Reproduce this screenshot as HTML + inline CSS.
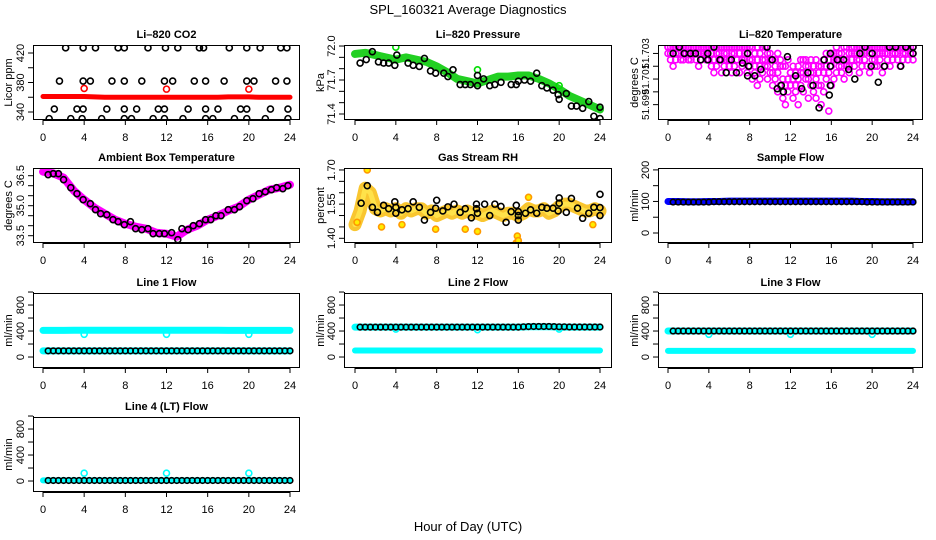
<!DOCTYPE html>
<html><head><meta charset="utf-8"><style>
html,body{margin:0;padding:0;background:#fff;}
svg{display:block;font-family:"Liberation Sans",sans-serif;}
</style></head><body>
<svg id="chart" width="936" height="540" viewBox="0 0 936 540" xmlns="http://www.w3.org/2000/svg">
<text x="468" y="14" text-anchor="middle" font-size="13">SPL_160321  Average Diagnostics</text>
<text x="468" y="531" text-anchor="middle" font-size="13">Hour of Day (UTC)</text>
</svg>
<script>
// ---------- data ----------
const xTicks = [0,4,8,12,16,20,24];
const co2BlackH = [2.2,3.9,5.1,7.3,7.9,10.2,11.9,13.1,15.2,15.6,18.1,19.8,21.1,23.1,23.7,
 1.6,3.9,4.6,6.7,7.9,9.6,11.8,12.6,14.7,15.8,17.6,19.8,20.5,22.6,23.7,
 1.1,3.3,3.9,6.2,7.9,9.1,11.2,11.8,14.1,15.8,17,19.2,19.8,22.1,23.8,
 0.6,2.7,3.8,5.7,7.9,8.6,10.7,11.8,13.6,15.8,16.5,18.6,19.8,21.6,23.8];
const co2BlackV = [427,427,427,427,427,427,427,427,427,427,427,427,427,427,427,
 382,382,382,382,382,382,382,382,382,382,382,382,382,382,382,
 344,344,344,344,344,344,344,344,344,344,344,344,344,344,344,
 331,331,331,331,331,331,331,331,331,331,331,331,331,331,331];
const co2Red = [361,361,361,361,361,360.5,360,360,360,360,360,360,360,360,360,360,360,360,360.5,360.5,360.5,360,360,360,360];
const co2RedOutH = [4,12,20];
const co2RedOutV = [372,371,371];

const pressGreen = [71.93,71.94,71.92,71.9,71.88,71.9,71.88,71.86,71.82,71.77,71.71,71.69,71.67,71.7,71.73,71.73,71.74,71.74,71.71,71.67,71.62,71.56,71.52,71.48,71.44];
const pressOutH = [4,12,20];
const pressOutV = [71.99,71.79,71.65];
const pressBlackH = [0.5,1.1,1.7,2.3,2.8,3.3,3.9,4.1,5.2,5.7,6.3,6.8,7.4,7.9,8.7,9.1,9.6,10.3,10.8,11.3,12,12,12.6,13.2,13.7,14.3,15.3,15.8,16,16.6,17.2,17.8,18.3,18.8,19.4,19.9,20,20.7,21.2,21.7,22.3,22.9,23.4,24,24];
const pressBlackV = [71.85,71.88,71.95,71.86,71.85,71.85,71.83,71.92,71.85,71.83,71.82,71.89,71.78,71.76,71.76,71.73,71.79,71.66,71.66,71.66,71.65,71.74,71.71,71.65,71.66,71.68,71.66,71.66,71.69,71.70,71.69,71.76,71.65,71.63,71.61,71.57,71.53,71.58,71.47,71.47,71.45,71.51,71.38,71.46,71.36];

const tempMagA = [51.7035,51.7035,51.7035,51.7035,51.7035,51.7035,51.7035,51.7035,51.7035,
 51.7035,51.7035,51.7035,51.7035,51.7035,51.7035,51.7035,51.7035,
 51.7035,51.7035,51.7035,51.7035,51.7035,51.7035,51.7035,51.7035,51.7035,51.7035,51.7035,51.7035,51.7035,51.7035,51.7035,51.7035,
 51.7035,51.703,51.7035,51.703,51.7035,51.7035,51.703,51.703,
 51.7025,51.7025,51.703,51.7025,
 51.702,51.702,51.7025,51.7015,51.702,51.7015,51.702,51.7025,
 51.7025,51.7025,51.702,51.7025,51.702,51.7025,51.702,51.702,51.7025,51.703,51.7025,51.703,
 51.703,51.7035,51.703,51.703,51.7035,51.7035,51.703,51.7035,
 51.7035,51.7035,51.7035,51.7035,51.7035,51.7035,51.7035,51.7035,51.7035,51.7035,51.7035,51.7035,51.7035,51.7035,51.7035,51.7035,51.7035,51.7035,51.7035,51.7035,51.7035,51.7035,51.7035,51.7035];
const tempMagB = [51.703,51.7025,51.702,51.7025,51.703,51.7025,51.7025,51.703,51.7025,
 51.7025,51.703,51.7025,51.702,51.7025,51.703,51.7025,51.7025,
 51.702,51.7015,51.702,51.7025,51.7015,51.702,51.7025,51.702,51.7015,51.702,51.7025,51.7015,51.702,51.7025,51.7015,51.702,
 51.701,51.7015,51.7005,51.701,51.7015,51.702,51.701,51.7015,
 51.7005,51.701,51.7,51.7005,
 51.6995,51.699,51.7,51.7005,51.6995,51.7,51.699,51.7005,
 51.7,51.701,51.6995,51.7005,51.7,51.6995,51.7005,51.699,51.7,51.701,51.6985,51.7005,
 51.701,51.7015,51.702,51.7015,51.701,51.702,51.7015,51.7025,
 51.702,51.7025,51.7015,51.702,51.7025,51.702,51.7015,51.7025,51.702,51.702,51.7025,51.7015,51.702,51.7025,51.702,51.7025,51.703,51.7025,51.702,51.7025,51.703,51.7025,51.703,51.7025];
const tempMagC = [51.7035,51.703,51.7035,51.703,51.703,51.7035,51.703,51.7035,51.703,
 51.703,51.703,51.7035,51.703,51.703,51.703,51.703,51.7035,
 51.703,51.7025,51.703,51.703,51.7025,51.703,51.703,51.7025,51.703,51.703,51.7025,51.703,51.7025,51.703,51.703,51.7025,
 51.7025,51.702,51.7025,51.702,51.7025,51.7025,51.702,51.7025,
 51.7015,51.702,51.7015,51.702,
 51.701,51.7005,51.701,51.7015,51.701,51.7005,51.701,51.7015,
 51.7015,51.702,51.701,51.7015,51.7015,51.701,51.7015,51.7005,51.7015,51.702,51.7015,51.702,
 51.7025,51.7025,51.7025,51.702,51.7025,51.7025,51.702,51.703,
 51.703,51.703,51.7025,51.703,51.703,51.7035,51.703,51.703,51.7025,51.703,51.703,51.703,51.703,51.703,51.7035,51.703,51.703,51.703,51.7035,51.703,51.703,51.7035,51.703,51.703];
const tempBlackH = [1.1,0.5,1.6,2.2,2.7,3.2,3.9,3.9,4.5,5.1,5.7,6.2,6.7,7.3,7.8,7.9,7.8,8.5,9.1,9.7,10.2,10.7,11.1,11.3,11.7,12.5,13.1,13.7,14.2,14.8,15.3,15.8,15.9,15.9,15.9,16.6,17.2,17.7,18.3,18.8,19.3,19.9,20.0,20.6,21.2,21.7,22.3,22.8,23.3,24,24];
const tempBlackV = [51.7035,51.703,51.703,51.703,51.703,51.7025,51.703,51.7025,51.7035,51.7025,51.7015,51.7025,51.7015,51.70225,51.703,51.702,51.70125,51.70125,51.70175,51.7035,51.7025,51.70025,51.7005,51.7,51.70275,51.70125,51.70025,51.7015,51.7005,51.69875,51.7025,51.69975,51.7005,51.702,51.703,51.7025,51.7025,51.70175,51.701,51.703,51.7035,51.702,51.703,51.70075,51.702,51.7035,51.7035,51.702,51.7035,51.703,51.7035];

const ambMag = [36.7,36.62,36.4,35.75,35.3,34.9,34.6,34.3,34.1,33.95,33.85,33.65,33.6,33.45,33.8,34.0,34.3,34.5,34.75,34.95,35.3,35.55,35.8,35.9,36.05];
const ambBlackH = [0.5,1,1.5,2,2.7,3.3,3.9,4.6,5.1,5.6,6.2,6.8,7.3,7.9,8.5,9,9.6,10.2,10.7,11.3,11.8,12.5,13.1,13.5,14.1,14.6,15.2,15.8,16.3,16.8,17.3,18,18.6,19.1,19.8,20.4,21,21.6,22.2,22.7,23.3,23.8];
const ambBlackV = [36.55,36.6,36.6,36.3,35.9,35.6,35.3,35.1,34.8,34.6,34.55,34.3,34.2,34.05,34.2,33.85,33.8,33.85,33.6,33.6,33.6,33.65,33.3,33.85,33.8,34.0,34.1,34.3,34.3,34.5,34.5,34.8,34.8,34.95,35.25,35.35,35.6,35.7,35.8,35.9,35.85,36.0];

const rhBand = [1.46,1.52,1.62,1.60,1.53,1.52,1.53,1.52,1.53,1.51,1.53,1.52,1.53,1.53,1.51,1.52,1.50,1.51,1.52,1.51,1.52,1.51,1.52,1.51,1.51,1.50,1.51,1.52,1.51,1.50,1.51,1.51,1.50,1.51,1.53,1.52,1.52,1.53,1.51,1.52,1.54,1.55,1.55,1.54,1.53,1.52,1.52,1.53,1.52];
const rhOutH = [1.2,2.6,4.6,7.9,10.8,12.0,15.8,15.9,16.0,23.3,0.2,17.0];
const rhOutV = [1.70,1.45,1.46,1.44,1.44,1.43,1.38,1.41,1.39,1.46,1.47,1.58];
const rhBlackH = [0.6,1.2,1.7,2.2,2.8,3.3,3.9,4.0,4.0,4.6,5.2,5.7,6.3,6.8,7.4,7.9,8.0,8.6,9.1,9.7,10.3,10.8,11.4,11.9,11.9,12.0,12.7,13.2,13.7,14.3,14.8,15.3,15.8,16.0,16.0,16.0,16.7,17.2,17.8,18.3,18.8,19.4,19.9,20.0,20.0,20.7,21.2,21.8,22.3,22.9,23.4,24.0,24.0,24.0];
const rhBlackV = [1.554,1.631,1.536,1.514,1.545,1.53,1.56,1.536,1.51,1.525,1.53,1.56,1.536,1.48,1.514,1.532,1.567,1.52,1.538,1.55,1.514,1.53,1.49,1.55,1.53,1.51,1.55,1.50,1.55,1.54,1.47,1.517,1.545,1.517,1.50,1.48,1.51,1.525,1.51,1.536,1.532,1.532,1.52,1.554,1.577,1.514,1.575,1.532,1.488,1.51,1.536,1.535,1.50,1.593];

const sampleBlue = [100,100,99,99,100,100,101,101,101,101,101,101,101,101,101,101,101,101,101,100,100,99,99,99,99];
const sampleBlack = [98,98,98,98,98,98,98,98,99,99,99,99,99,99,99,99,99,99,99,99,99,99,99,99,99,99,99,99,99,99,99,99,99,99,99,99,99,99,98,98,98,98,98,98,98,98,98,98];

const line1CyanTop = [410,410,410,412,412,412,412,412,412,412,412,412,412,412,412,412,412,412,410,410,410,410,410,410,410];
const line1CyanLow = [95,95,95,95,95,95,95,95,95,95,95,95,95,95,95,95,95,95,95,95,95,95,95,95,95];
const line1Black = [95,95,95,95,95,95,95,95,95,95,95,95,95,95,95,95,95,95,95,95,95,95,95,95,95,95,95,95,95,95,95,95,95,95,95,95,95,95,95,95,95,95,95,95,95,95,95,95];
const line2CyanTop = [460,460,460,460,460,460,460,460,460,460,460,460,460,460,460,460,460,465,465,465,460,460,460,460,460];
const line2CyanLow = [100,100,100,100,100,100,100,100,100,100,100,100,100,100,100,100,100,100,100,100,100,100,100,100,100];
const line2Black = [460,460,460,460,460,460,460,460,460,460,460,460,460,460,460,460,460,460,460,460,460,460,460,460,460,460,460,460,460,460,460,460,465,468,470,470,470,470,468,465,465,462,462,462,462,462,462,462];
const line3CyanTop = [400,400,400,400,400,400,400,400,400,400,400,400,400,400,400,400,400,400,400,400,400,400,400,400,400];
const line3CyanLow = [95,95,95,95,95,95,95,95,95,95,95,95,95,95,95,95,95,95,95,95,95,95,95,95,95];
const line3Black = [400,400,400,400,400,400,400,400,400,400,400,400,400,400,400,400,400,400,400,400,400,400,400,400,400,400,400,400,400,400,400,400,400,400,400,400,400,400,400,400,400,400,400,400,400,400,400,400];
const line4Cyan = [10,10,10,10,10,10,10,10,10,10,10,10,10,10,10,10,10,10,10,10,10,10,10,10,10];
const line4Black = [8,8,8,8,8,8,8,8,8,8,8,8,8,8,8,8,8,8,8,8,8,8,8,8,8,8,8,8,8,8,8,8,8,8,8,8,8,8,8,8,8,8,8,8,8,8,8,8];
const flowOutH = [4,12,20];
const line1OutV = [350,350,350];
const line2OutV = [430,420,430];
const line3OutV = [350,350,350];
const line4OutV = [120,120,120];

// ---------- hour grids (category axes) ----------
const hoursHourly = []; for (let i = 0; i <= 24; i++) hoursHourly.push(i);
const hoursHalf = []; for (let i = 0; i <= 48; i++) hoursHalf.push(i / 2);
const hoursQuarter = []; for (let i = 0; i <= 96; i++) hoursQuarter.push(i / 4);
const hoursBlack = []; for (let i = 1; i <= 48; i++) hoursBlack.push(i / 2);

// ---------- layout ----------
const NS = "http://www.w3.org/2000/svg";
const svg = document.getElementById('chart');
const COLS = [{l:33,r:300,x0:43,x24:290},{l:344,r:612,x0:355,x24:600},{l:658,r:923,x0:668,x24:913}];
const ROWS = [{t:45,b:120},{t:168,b:243},{t:293,b:368},{t:417,b:492}];
const YT = [10, 322, 636];

function mk(tag, attrs, parent) {
  const e = document.createElementNS(NS, tag);
  for (const k in attrs) e.setAttribute(k, attrs[k]);
  (parent || svg).appendChild(e);
  return e;
}

function panel(spec) {
  const c = COLS[spec.col], r = ROWS[spec.row];
  const g = mk('g', {});
  
  
  const p = {
    g: g,
    x: h => c.x0 + (h / 24) * (c.x24 - c.x0),
    y: v => r.b - (v - spec.ymin) / (spec.ymax - spec.ymin) * (r.b - r.t)
  };
  const cid = 'clip-' + spec.name;
  const cp = mk('clipPath', {id: cid}, g);
  mk('rect', {x: c.l, y: r.t, width: c.r - c.l, height: r.b - r.t}, cp);
  p.plot = mk('g', {'clip-path': 'url(#' + cid + ')'}, g);
  
  
  const t = mk('text', {x: (c.l + c.r) / 2, y: r.t - 7, 'text-anchor': 'middle', 'font-size': 11, 'font-weight': 'bold'}, g);
  t.textContent = spec.title;
  
  
  const fr = mk('rect', {x: c.l + 0.5, y: r.t + 0.5, width: c.r - c.l - 1, height: r.b - r.t - 1, fill: 'none', stroke: '#000', 'stroke-width': 1}, g);
  
  
  const xa = mk('g', {}, g);
  
  
  mk('line', {x1: p.x(xTicks[0]), x2: p.x(xTicks[xTicks.length - 1]), y1: r.b + 0.5, y2: r.b + 0.5, stroke: '#000'}, xa);
  xTicks.forEach(h => {
    mk('line', {x1: p.x(h), x2: p.x(h), y1: r.b, y2: r.b + 5, stroke: '#000'}, xa);
    const tx = mk('text', {x: p.x(h), y: r.b + 21, 'text-anchor': 'middle', 'font-size': 11}, xa);
    tx.textContent = h;
    
    
  });
  const ya = mk('g', {}, g);
  
  
  mk('line', {x1: c.l + 0.5, x2: c.l + 0.5, y1: p.y(spec.ticks[0]), y2: p.y(spec.ticks[spec.ticks.length - 1]), stroke: '#000'}, ya);
  spec.ticks.forEach(v => {
    mk('line', {x1: c.l - 5, x2: c.l, y1: p.y(v), y2: p.y(v), stroke: '#000'}, ya);
  });
  spec.labels.forEach((v, i) => {
    const yy = p.y(v), xx = c.l - 9;
    const tx = mk('text', {x: xx, y: yy, 'text-anchor': 'middle', 'font-size': spec.labelSize || 11, transform: 'rotate(-90 ' + xx + ' ' + yy + ')'}, ya);
    tx.textContent = spec.labelText ? spec.labelText[i] : v;
    
    
  });
  const yx = YT[spec.col] + 2, yy = (r.t + r.b) / 2;
  const yt = mk('text', {x: yx, y: yy, 'text-anchor': 'middle', 'font-size': 11, transform: 'rotate(-90 ' + yx + ' ' + yy + ')'}, g);
  yt.textContent = spec.ytitle;
  
  
  return p;
}

function points(p, xs, ys, color, rad, sw, name, fill) {
  const g = mk('g', {}, p.plot);
  
  
  for (let i = 0; i < ys.length && i < xs.length; i++) {
    const c = mk('circle', {cx: p.x(xs[i]), cy: p.y(ys[i]), r: rad, fill: fill || 'none', stroke: color, 'stroke-width': sw}, g);
    
    
  }
}

function band(p, xs, ys, color, width, name) {
  let d = '';
  for (let i = 0; i < ys.length; i++) d += (i ? 'L' : 'M') + p.x(xs[i]).toFixed(2) + ',' + p.y(ys[i]).toFixed(2);
  const pa = mk('path', {d: d, fill: 'none', stroke: color, 'stroke-width': width, 'stroke-linecap': 'round', 'stroke-linejoin': 'round'}, p.plot);
  
  
}

const BK = '#000';
let p = panel({name:'panel-li820-co2', col:0, row:0, title:'Li\u2013820 CO2', ytitle:'Licor ppm', ymin:329.15, ymax:430.85, ticks:[340,360,380,400,420], labels:[340,380,420]});
band(p, hoursHourly, co2Red, '#ff0000', 5, 'co2-red-band');
points(p, co2RedOutH, co2RedOutV, '#ff0000', 3, 1.6, 'co2-red-outliers');
points(p, co2BlackH, co2BlackV, BK, 3, 1.6, 'co2-black-points');

p = panel({name:'panel-li820-pressure', col:1, row:0, title:'Li\u2013820 Pressure', ytitle:'kPa', ymin:71.347, ymax:72.009, ticks:[71.4,71.5,71.6,71.7,71.8,71.9,72.0], labels:[71.4,71.7,72.0], labelText:['71.4','71.7','72.0']});
band(p, hoursHourly, pressGreen, '#22d022', 8, 'pressure-green-band');
points(p, pressOutH, pressOutV, '#00dd00', 3, 1.6, 'pressure-green-outliers');
points(p, pressBlackH, pressBlackV, BK, 3, 1.6, 'pressure-black-points');

p = panel({name:'panel-li820-temperature', col:2, row:0, title:'Li\u2013820 Temperature', ytitle:'degrees C', ymin:51.6978, ymax:51.70366, ticks:[51.699,51.7,51.701,51.702,51.703], labels:[51.699,51.701,51.703], labelText:['51.699','51.701','51.703'], labelSize:10});
points(p, hoursQuarter, tempMagB, '#ff00ff', 3, 1.6, 'temp-magenta-points-low');
points(p, hoursQuarter, tempMagC, '#ff00ff', 3, 1.6, 'temp-magenta-points-mid');
points(p, hoursQuarter, tempMagA, '#ff00ff', 3, 1.6, 'temp-magenta-points-high');
points(p, tempBlackH, tempBlackV, BK, 3, 1.6, 'temp-black-points');

p = panel({name:'panel-ambient-box-temperature', col:0, row:1, title:'Ambient Box Temperature', ytitle:'degrees C', ymin:33.135, ymax:36.885, ticks:[33.5,34,34.5,35,35.5,36,36.5], labels:[33.5,35.0,36.5], labelText:['33.5','35.0','36.5']});
band(p, hoursHourly, ambMag, '#ff00ff', 8, 'ambient-magenta-band');
points(p, ambBlackH, ambBlackV, BK, 3, 1.6, 'ambient-black-points');

p = panel({name:'panel-gas-stream-rh', col:1, row:1, title:'Gas Stream RH', ytitle:'percent', ymin:1.3794, ymax:1.7086, ticks:[1.40,1.45,1.50,1.55,1.60,1.65,1.70], labels:[1.40,1.55,1.70], labelText:['1.40','1.55','1.70']});
band(p, hoursHalf, rhBand, '#f9c630', 13, 'rh-orange-band');
band(p, hoursHalf, rhBand, '#ffe24a', 5, 'rh-yellow-core');
points(p, rhOutH, rhOutV, '#ff9900', 3, 1.6, 'rh-orange-outliers', '#ffee00');
points(p, rhBlackH, rhBlackV, BK, 3, 1.6, 'rh-black-points');

p = panel({name:'panel-sample-flow', col:2, row:1, title:'Sample Flow', ytitle:'ml/min', ymin:-31.7, ymax:206, ticks:[0,50,100,150,200], labels:[0,100,200]});
band(p, hoursHourly, sampleBlue, '#0000ff', 7, 'sample-blue-band');
points(p, hoursBlack, sampleBlack, BK, 2.8, 1.6, 'sample-black-points');

const flowSpec = (name, col, row, title) => ({name:name, col:col, row:row, title:title, ytitle:'ml/min', ymin:-169, ymax:985, ticks:[0,200,400,600,800,1000], labels:[0,400,800]});
p = panel(flowSpec('panel-line1-flow', 0, 2, 'Line 1 Flow'));
band(p, hoursHourly, line1CyanTop, '#00ffff', 7, 'line1-cyan-top-band');
band(p, hoursHourly, line1CyanLow, '#00ffff', 7, 'line1-cyan-low-band');
points(p, flowOutH, line1OutV, '#00ffff', 3, 1.6, 'line1-cyan-outliers');
points(p, hoursBlack, line1Black, BK, 2.8, 1.6, 'line1-black-points');
p = panel(flowSpec('panel-line2-flow', 1, 2, 'Line 2 Flow'));
band(p, hoursHourly, line2CyanTop, '#00ffff', 7, 'line2-cyan-top-band');
band(p, hoursHourly, line2CyanLow, '#00ffff', 6, 'line2-cyan-low-band');
points(p, flowOutH, line2OutV, '#00ffff', 3, 1.6, 'line2-cyan-outliers');
points(p, hoursBlack, line2Black, BK, 2.8, 1.6, 'line2-black-points');
p = panel(flowSpec('panel-line3-flow', 2, 2, 'Line 3 Flow'));
band(p, hoursHourly, line3CyanTop, '#00ffff', 7, 'line3-cyan-top-band');
band(p, hoursHourly, line3CyanLow, '#00ffff', 6, 'line3-cyan-low-band');
points(p, flowOutH, line3OutV, '#00ffff', 3, 1.6, 'line3-cyan-outliers');
points(p, hoursBlack, line3Black, BK, 2.8, 1.6, 'line3-black-points');
p = panel(flowSpec('panel-line4-flow', 0, 3, 'Line 4 (LT) Flow'));
band(p, hoursHourly, line4Cyan, '#00ffff', 6, 'line4-cyan-band');
points(p, flowOutH, line4OutV, '#00ffff', 3, 1.6, 'line4-cyan-outliers');
points(p, hoursBlack, line4Black, BK, 2.8, 1.6, 'line4-black-points');
</script>
</body></html>
